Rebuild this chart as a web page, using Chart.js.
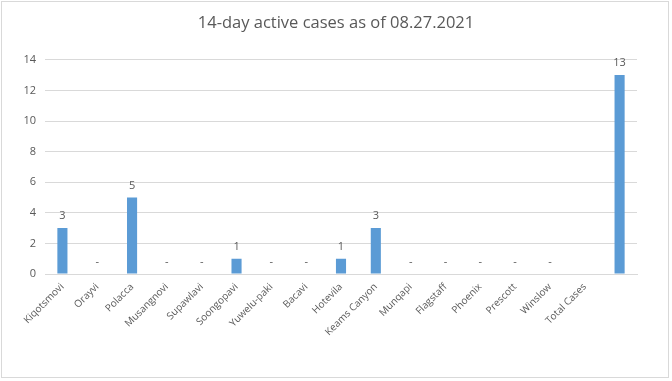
<!DOCTYPE html>
<html>
<head>
<meta charset="utf-8">
<script src="https://cdn.jsdelivr.net/npm/chart.js@4"></script>
<style>
    body { margin: 0; background: #fff; }
    #wrap { position: relative; width: 672px; height: 381px; }
    #frame { position: absolute; left: 1px; top: 1px; width: 668px; height: 377px; border: 1px solid #d9d9d9; box-sizing: border-box; pointer-events: none; }
</style>
</head>
<body>
<div id="wrap">
    <canvas id="casesChart" width="672" height="381"></canvas>
    <div id="frame"></div>
</div>
<script>
// 14-day active cases chart

const categories = ['Kiqotsmovi', 'Orayvi', 'Polacca', 'Musangnovi', 'Supawlavi', 'Soongopavi',
    'Yuwelu-paki', 'Bacavi', 'Hotevila', 'Keams Canyon', 'Munqapi', 'Flagstaff', 'Phoenix',
    'Prescott', 'Winslow', 'Total Cases', ''];
const activeCases = [3, 0, 5, 0, 0, 1, 0, 0, 1, 3, 0, 0, 0, 0, 0, null, 13];
const yTicks = [0, 2, 4, 6, 8, 10, 12, 14];

const textColor = '#595959';
const gridColor = '#d9d9d9';

// Draw value labels above bars, "-" for zero
const valueLabels = {
    id: 'valueLabels',
    afterDatasetsDraw(chart) {
        const ctx = chart.ctx;
        const meta = chart.getDatasetMeta(0);
        ctx.save();
        ctx.font = '11px "Open Sans"';
        ctx.fillStyle = textColor;
        ctx.textAlign = 'center';
        ctx.textBaseline = 'middle';
        meta.data.forEach((bar, i) => {
            const v = activeCases[i];
            if (v === null) return;
            ctx.fillText(v === 0 ? '-' : String(v), bar.x, bar.y - 12);
        });
        ctx.restore();
    }
};

new Chart(document.getElementById('casesChart'), {
    type: 'bar',
    data: {
        labels: categories,
        datasets: [{
            data: activeCases,
            backgroundColor: '#5b9bd5',
            borderWidth: 0,
            categoryPercentage: 1,
            barPercentage: 0.29
        }]
    },
    options: {
        responsive: false,
        animation: false,
        layout: { padding: 0 },
        plugins: {
            legend: { display: false },
            tooltip: { enabled: false },
            title: {
                display: true,
                text: '14-day active cases as of 08.27.2021',
                color: textColor,
                font: { family: 'Open Sans', size: 16.5, weight: 'normal' },
                padding: { top: 13, bottom: 27 }
            }
        },
        scales: {
            x: {
                grid: { display: false, drawTicks: false },
                border: { display: true, color: gridColor },
                ticks: {
                    color: textColor,
                    font: { family: 'Open Sans', size: 10 },
                    minRotation: 45,
                    maxRotation: 45,
                    autoSkip: false,
                    padding: 7
                },
                afterFit(scale) { scale.height = 107; }
            },
            y: {
                min: 0,
                max: 14,
                grid: { color: gridColor, drawTicks: false },
                border: { display: false },
                afterBuildTicks(scale) { scale.ticks = yTicks.map(v => ({ value: v })); },
                ticks: {
                    color: textColor,
                    font: { family: 'Open Sans', size: 11 },
                    padding: 9
                },
                afterFit(scale) { scale.width = 45; }
            },
            // empty right margin so the title stays centred on the whole chart
            yRight: {
                position: 'right',
                grid: { display: false, drawTicks: false },
                border: { display: false },
                ticks: { display: false },
                afterFit(scale) { scale.width = 35; }
            }
        }
    },
    plugins: [valueLabels]
});
</script>
</body>
</html>
